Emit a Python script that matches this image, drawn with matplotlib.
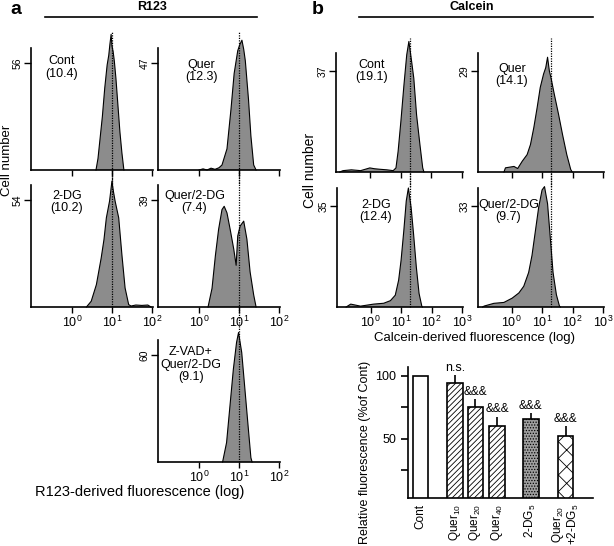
import matplotlib
matplotlib.use('Agg')
import matplotlib.pyplot as plt
import numpy as np

plt.rcParams['font.family'] = ['Liberation Sans', 'DejaVu Sans']
plt.rcParams['mathtext.fontset'] = 'custom'
plt.rcParams['mathtext.rm'] = 'Liberation Sans'
plt.rcParams['mathtext.default'] = 'regular'
plt.rcParams['hatch.linewidth'] = 0.6

# histogram data: log10(fluorescence) and cell counts
a_cont_lx = [0.60, 0.65, 0.70, 0.76, 0.82, 0.88, 0.92, 0.95, 0.98, 1.00, 1.03, 1.06, 1.10, 1.15, 1.20, 1.25, 1.30]
a_cont_n = [0, 6, 16, 28, 43, 55, 60, 66, 71, 65, 62, 57, 48, 34, 20, 9, 0]
a_quer_lx = [0.0, 0.1, 0.2, 0.3, 0.4, 0.5, 0.575, 0.7, 0.8, 0.88, 0.97, 1.02, 1.075, 1.12, 1.16, 1.24, 1.30, 1.37, 1.43]
a_quer_n = [0, 0.5, 0, 0.8, 0.3, 1, 2.2, 9.3, 26.6, 42.4, 52.4, 55, 57, 53, 48, 31, 15, 2.2, 0]
a_2dg_lx = [0.36, 0.48, 0.61, 0.73, 0.80, 0.86, 0.94, 1.00, 1.04, 1.08, 1.17, 1.25, 1.33, 1.42, 1.48, 1.60, 1.75, 1.90, 1.98]
a_2dg_n = [0, 2.9, 11.3, 24.7, 34, 45, 53.4, 63.5, 58, 53.4, 45, 26.4, 9.6, 1.2, 0.5, 1, 0.8, 1, 0]
a_q2dg_lx = [0.225, 0.325, 0.41, 0.49, 0.575, 0.63, 0.70, 0.78, 0.87, 0.93, 0.97, 1.03, 1.12, 1.20, 1.28, 1.37, 1.43]
a_q2dg_n = [0, 6.8, 18.8, 28.3, 35.5, 36.7, 34.3, 28.3, 21.1, 15.2, 25.9, 29.5, 31.3, 24.7, 12.8, 4.4, 0]
a_zvad_lx = [0.59, 0.69, 0.775, 0.86, 0.94, 0.99, 1.07, 1.15, 1.23, 1.30, 1.33]
a_zvad_n = [0, 10.9, 31.5, 52, 67, 72.6, 61.4, 40.8, 20.2, 2.4, 0]

b_cont_lx = [-0.98, -0.87, -0.6, -0.3, 0.0, 0.15, 0.33, 0.55, 0.76, 0.85, 0.92, 1.01, 1.11, 1.20, 1.27, 1.36, 1.43, 1.52, 1.63, 1.72, 1.76]
b_cont_n = [0, 0.5, 0.8, 0.5, 1.5, 1.2, 1, 0.8, 0.5, 1.5, 7.6, 18.6, 32, 43, 47.9, 40.5, 34.4, 21, 10, 1.5, 0]
b_quer_lx = [-0.25, -0.2, 0.08, 0.2, 0.35, 0.51, 0.62, 0.73, 0.84, 0.94, 1.05, 1.12, 1.18, 1.24, 1.29, 1.40, 1.54, 1.67, 1.81, 1.94, 1.99]
b_quer_n = [0, 1.2, 1.6, 1, 3.1, 5, 7.9, 12.8, 18.6, 24.3, 28.2, 30, 33, 29, 27.2, 22.4, 16.6, 10.8, 5, 0.7, 0]
b_2dg_lx = [-0.8, -0.65, -0.33, 0.1, 0.43, 0.65, 0.81, 0.92, 1.00, 1.09, 1.17, 1.24, 1.33, 1.41, 1.50, 1.59, 1.68, 1.70]
b_2dg_n = [0, 1, 0.3, 1, 1.3, 2.2, 4.1, 9.3, 16.2, 26.5, 36.8, 41.3, 34.5, 25.3, 13.9, 4.7, 0.3, 0]
b_q2dg_lx = [-0.95, -0.9, -0.58, -0.25, 0.02, 0.24, 0.40, 0.56, 0.67, 0.78, 0.89, 1.00, 1.08, 1.18, 1.27, 1.36, 1.47, 1.57, 1.60]
b_q2dg_n = [0, 0.3, 1.2, 1.5, 2.9, 4.6, 6.8, 11.3, 16.9, 24.8, 32.7, 38.3, 39.4, 33.8, 22.6, 11.3, 4, 0.3, 0]

# bar chart data
bar_labels = ['Cont', 'Quer$_{10}$', 'Quer$_{20}$', 'Quer$_{40}$', '2-DG$_5$', 'Quer$_{20}$\n+2-DG$_5$']
bar_pos = [0, 1.68, 2.68, 3.73, 5.37, 7.07]
bar_vals = [100, 94.5, 75.5, 60.5, 65.5, 52.6]
bar_err = [0, 6.3, 5.8, 7.1, 4.8, 7.7]
bar_sig = ['', 'n.s.', '&&&', '&&&', '&&&', '&&&']

W, H = 614, 546
fig = plt.figure(figsize=(W / 100, H / 100), dpi=100)


def add_ax(l, t, r, b):
    return fig.add_axes([l / W, 1 - b / H, (r - l) / W, (b - t) / H])


def hist(ax, lx, n, ytick, yfac, xlim, ticks, show_lab, vline, lo, label, tx, ty):
    x = 10 ** np.array(lx)
    ax.fill_between(x, n, 0, facecolor='#8c8c8c', edgecolor='none', clip_on=False)
    ax.plot(x, n, color='k', lw=0.8, clip_on=False)
    ax.set_xscale('log')
    ax.set_xlim(xlim)
    ax.set_ylim(0, ytick * yfac)
    for s in ['top', 'right']:
        ax.spines[s].set_visible(False)
    for s in ['left', 'bottom']:
        ax.spines[s].set_linewidth(1.2)
    ax.set_yticks([ytick])
    ax.set_yticklabels([str(ytick)], rotation=90, va='center', fontsize=7.5)
    ax.tick_params(axis='y', length=5, width=1, pad=1)
    ax.set_xticks(ticks)
    if show_lab:
        ax.set_xticklabels(['$10^{%d}$' % int(np.log10(t)) for t in ticks], fontsize=9)
    else:
        ax.set_xticklabels([])
    ax.xaxis.set_minor_locator(matplotlib.ticker.LogLocator(base=10, subs=np.arange(2, 10)))
    ax.xaxis.set_minor_formatter(matplotlib.ticker.NullFormatter())
    ax.tick_params(axis='x', which='major', length=4, width=1, pad=1.5)
    ax.tick_params(axis='x', which='minor', length=2.5, width=0.8)
    ax.axvline(vline, ymin=lo, ymax=1.13, ls=(0, (1, 1)), color='k', lw=0.9, clip_on=False)
    ax.text(tx, ty, label, transform=ax.transAxes, ha='left', va='top',
            multialignment='center', fontsize=9, linespacing=1.05)


xa = (10 ** -1.03, 10 ** 2.03)
ta = [1, 10, 100]
xb = (10 ** -1.1, 10 ** 3.03)
tb = [1, 10, 100, 1000]

hist(add_ax(31, 48, 153, 170), a_cont_lx, a_cont_n, 56, 1.14, xa, ta, False, 10, -0.13, 'Cont\n(10.4)', 0.12, 0.94)
hist(add_ax(158, 48, 280, 170), a_quer_lx, a_quer_n, 47, 1.14, xa, ta, False, 10, -0.13, 'Quer\n(12.3)', 0.22, 0.91)
hist(add_ax(31, 185, 153, 307), a_2dg_lx, a_2dg_n, 54, 1.14, xa, ta, True, 10, 0, '2-DG\n(10.2)', 0.16, 0.96)
hist(add_ax(158, 185, 280, 307), a_q2dg_lx, a_q2dg_n, 39, 1.14, xa, ta, True, 10, -0.13, 'Quer/2-DG\n(7.4)', 0.05, 0.96)
hist(add_ax(158, 340, 280, 462), a_zvad_lx, a_zvad_n, 60, 1.14, xa, ta, True, 10, 0, 'Z-VAD+\nQuer/2-DG\n(9.1)', 0.02, 0.95)

hist(add_ax(336, 53, 463, 172), b_cont_lx, b_cont_n, 37, 1.18, xb, tb, False, 20, -0.14, 'Cont\n(19.1)', 0.15, 0.95)
hist(add_ax(478, 53, 604, 172), b_quer_lx, b_quer_n, 29, 1.18, xb, tb, False, 20, -0.14, 'Quer\n(14.1)', 0.14, 0.92)
hist(add_ax(337, 188, 463, 307), b_2dg_lx, b_2dg_n, 35, 1.18, xb, tb, True, 20, 0, '2-DG\n(12.4)', 0.18, 0.91)
hist(add_ax(478, 188, 604, 307), b_q2dg_lx, b_q2dg_n, 33, 1.18, xb, tb, True, 20, 0, 'Quer/2-DG\n(9.7)', 0.0, 0.91)

# panel headers
fig.text(10 / W, 1 - 10 / H, 'a', fontsize=14, fontweight='bold', va='center')
fig.text(312 / W, 1 - 9 / H, 'b', fontsize=14, fontweight='bold', va='center')
fig.text(152 / W, 1 - 7 / H, 'R123', fontsize=9, fontweight='bold', ha='center', va='center')
fig.text(472 / W, 1 - 7 / H, 'Calcein', fontsize=9, fontweight='bold', ha='center', va='center')
fig.add_artist(plt.Line2D([45 / W, 257 / W], [1 - 17 / H] * 2, color='k', lw=1.2))
fig.add_artist(plt.Line2D([359 / W, 593 / W], [1 - 17 / H] * 2, color='k', lw=1.2))
fig.text(7 / W, 1 - 160 / H, 'Cell number', fontsize=9.5, rotation=90, ha='center', va='center')
fig.text(310 / W, 1 - 170 / H, 'Cell number', fontsize=10, rotation=90, ha='center', va='center')
fig.text(140 / W, 1 - 492 / H, 'R123-derived fluorescence (log)', fontsize=10.5, ha='center', va='center')
fig.text(475 / W, 1 - 338 / H, 'Calcein-derived fluorescence (log)', fontsize=9.5, ha='center', va='center')

# bar chart
ax = add_ax(408, 367, 593, 498)
hatches = ['', '//////', '//////', '//////', '......', 'xx']
faces = ['white', 'white', 'white', 'white', '#a0a0a0', 'white']
for p, v, h, f in zip(bar_pos, bar_vals, hatches, faces):
    ax.bar(p, v, width=0.76, color=f, edgecolor='k', lw=1.2, hatch=h)
for p, v, e, s in zip(bar_pos, bar_vals, bar_err, bar_sig):
    if e > 0:
        ax.vlines(p, v, v + e, color='k', lw=1.2)
    if s:
        ax.text(p, v + e + 1, s, ha='center', va='bottom', fontsize=8.5 if s != 'n.s.' else 9)
ax.set_xlim(-0.6, 8.4)
ax.set_ylim(3, 107)
ax.set_yticks([25, 50, 75, 100])
ax.set_yticklabels(['', '50', '', '100'], fontsize=9)
ax.tick_params(axis='y', length=5, width=1.2)
ax.set_xticks(bar_pos)
ax.set_xticklabels(bar_labels, rotation=90, fontsize=8.5, linespacing=0.95)
ax.tick_params(axis='x', length=0, pad=4)
for s in ['top', 'right']:
    ax.spines[s].set_visible(False)
for s in ['left', 'bottom']:
    ax.spines[s].set_linewidth(1.2)
fig.text(365 / W, 1 - 452 / H, 'Relative fluorescence (%of Cont)', fontsize=9, rotation=90, ha='center', va='center')

fig.savefig('out.png', dpi=100)
